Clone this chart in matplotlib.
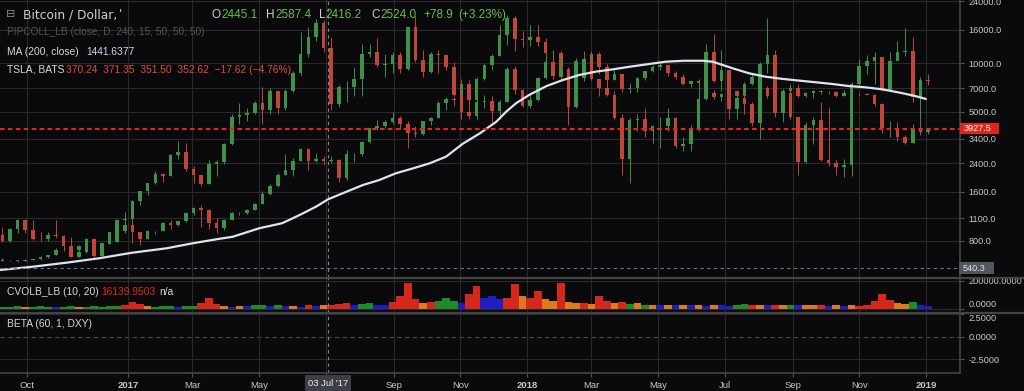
import numpy as np
import matplotlib
matplotlib.use("Agg")
import matplotlib.pyplot as plt
import matplotlib.dates as mdates
from matplotlib.lines import Line2D
from matplotlib.patches import Rectangle
from matplotlib.ticker import NullLocator, FixedLocator, FixedFormatter
from matplotlib.transforms import blended_transform_factory
from datetime import datetime, timedelta

plt.rcParams['font.family'] = ['Liberation Sans', 'DejaVu Sans']

# ---------------- data (weekly, week starting Monday) ----------------
week_start = datetime(2016, 9, 5)
n_weeks = 122

btc_open0 = 603
btc_close = [608, 609, 600, 612, 617, 638, 651, 699, 703, 702, 740, 734, 765, 770, 790, 925, 998,
             905, 820, 920, 920, 1025, 1000, 1055, 1180, 1270, 1230, 1030, 960, 1080,
             1190, 1180, 1240, 1350, 1550, 1750, 2050, 2200, 2500, 2950, 2500, 2550, 2500,
             2510, 1950, 2750, 2750, 3250, 4000, 4100, 4350, 4600, 4200, 3700, 3650, 4380,
             4600, 5700, 6000, 5900, 7400, 5900, 8000, 9700, 11000, 15000, 19100, 14000, 13800,
             14500, 13500, 11500, 11500, 8200, 8100, 10300, 9600, 11400, 9500, 7900, 8500, 6900,
             7000, 8100, 8900, 9400, 9700, 8700, 8200, 7400, 7700, 7500, 6500, 6200, 6400,
             6700, 6300, 7400, 8200, 7000, 6300, 6400, 6700, 7000, 6300, 6500, 6700, 6600,
             6600, 6300, 6500, 6450, 6400, 6350, 5600, 4000, 4000, 3500, 3200, 3900, 3750, 3900]
btc_high = [630, 612, 612, 613, 621, 642, 655, 720, 740, 740, 755, 755, 770, 775, 795, 940, 1000,
            1150, 910, 930, 925, 1040, 1070, 1060, 1200, 1290, 1330, 1250, 1100, 1090,
            1210, 1210, 1260, 1360, 1620, 1800, 2100, 2760, 2600, 2980, 2990, 2800, 2650,
            2650, 2560, 2900, 2800, 3300, 4000, 4480, 4450, 4980, 4700, 4400, 4100, 4400,
            4620, 5850, 6150, 6200, 7600, 7900, 8200, 9800, 11400, 17100, 19800, 19500, 15800,
            17200, 17100, 14200, 12000, 11800, 8700, 10800, 11800, 11600, 11700, 9900, 9100, 8600,
            7500, 8200, 8900, 9700, 9950, 9700, 8900, 8500, 7750, 7800, 7500, 6850, 6500,
            6800, 6800, 7600, 8500, 8300, 7200, 6600, 6900, 7400, 7400, 6600, 6800, 6800,
            6700, 6700, 6800, 6600, 6500, 6550, 6450, 5650, 4400, 4300, 3600, 4200, 4200, 3950]
btc_low = [600, 602, 591, 598, 607, 612, 625, 650, 690, 700, 700, 720, 730, 753, 770, 790, 890,
           780, 750, 820, 880, 915, 940, 990, 1040, 1150, 975, 950, 890, 930,
           1070, 1150, 1170, 1230, 1350, 1540, 1720, 2050, 2000, 2480, 2200, 2450, 2350,
           2400, 1850, 1900, 2450, 2650, 3200, 3850, 3950, 4200, 3900, 2980, 3500, 3600,
           4150, 4600, 5100, 5400, 5900, 5500, 5800, 7900, 9000, 11000, 13000, 11800, 12600,
           12800, 12700, 9400, 10100, 8000, 5900, 8000, 9300, 9400, 8600, 7300, 7900, 6600,
           6500, 6600, 7900, 8800, 9000, 8300, 8000, 7300, 7100, 7400, 6200, 6000, 5800,
           6300, 6100, 6300, 7300, 6900, 6100, 5900, 6200, 6600, 6200, 6200, 6100, 6400,
           6450, 6200, 6300, 6400, 6300, 6350, 5400, 3700, 3500, 3300, 3150, 3200, 3600, 3650]

tsla_open0 = 200
tsla_close = [194.5, 205.4, 213.4, 204.0, 196.6, 196.5, 200.0, 199.0, 190.6, 181.0, 185.0, 196.6, 181.5, 192.0, 202.5, 213.0, 213.7,
              229.0, 237.8, 244.7, 252.9, 251.3, 269.0, 272.0, 257.0, 251.6, 243.7, 261.5, 263.0, 278.3,
              302.5, 304.0, 305.6, 314.0, 308.0, 324.8, 310.0, 325.0, 339.9, 357.0, 371.4, 383.5, 361.6,
              313.2, 327.8, 328.4, 335.0, 356.9, 357.9, 347.5, 348.0, 355.4, 343.4, 379.8, 351.1, 341.1,
              356.9, 355.7, 345.1, 320.9, 306.1, 303.0, 315.0, 316.0, 306.9, 315.1, 343.5, 325.2, 311.4,
              316.6, 336.2, 350.0, 337.6, 343.8, 310.4, 335.5, 352.0, 335.1, 327.2, 321.4, 301.5, 266.1,
              299.3, 300.3, 290.2, 294.1, 294.1, 301.0, 276.8, 278.9, 291.8, 317.7, 358.2, 333.6, 342.9,
              308.9, 318.9, 313.6, 297.2, 348.2, 355.5, 305.5, 322.8, 301.7, 263.2, 295.2, 299.1, 264.8,
              261.95, 258.8, 260.95, 330.9, 346.4, 350.5, 354.3, 325.8, 350.5, 358.0, 358.8, 319.8, 333.9, 332.8]
tsla_high = [207, 206, 214, 214, 213, 203, 203, 213, 200, 198, 190, 197, 197, 193, 203, 214, 220,
             230, 238, 245, 255, 254, 270, 281, 280, 260, 252, 265, 265, 280,
             305, 314, 310, 316, 328, 327, 325, 326, 342, 376, 380, 387, 386,
             371, 330, 333, 345, 365, 365, 370, 357, 358, 358, 380, 389.6, 360,
             358, 360, 356, 350, 335, 315, 318, 321, 320, 317, 345, 346, 326,
             322, 337, 355, 356, 355, 345, 338, 354, 359, 335, 347, 325, 305,
             301, 305, 310, 295, 302, 310, 302, 285, 295, 335, 365, 374, 360,
             343, 323, 325, 315, 350, 387.5, 360, 326, 325, 302, 298, 302, 315,
             311, 265, 266, 332, 352, 356, 358, 354, 358, 368, 379, 371, 337, 339]
tsla_low = [194, 194, 202, 202, 196, 195, 195, 197, 187, 181, 181, 184, 181, 182, 192, 202, 208,
            212, 226, 235, 244, 246, 251, 266, 255, 245, 242, 244, 251, 261,
            278, 296, 299, 305, 296, 305, 305, 308, 324, 338, 354, 368, 358,
            308, 311, 315, 320, 320, 354, 345, 337, 340, 340, 343, 350, 337,
            340, 340, 343, 320, 300, 300, 300, 310, 298, 300, 315, 322, 311,
            310, 316, 335, 335, 334, 295, 310, 333, 334, 320, 320, 300, 252,
            244.6, 290, 285, 280, 275, 290, 275, 273, 273, 290, 317, 332, 325,
            300, 300, 305, 294, 283, 340, 302, 298, 300, 252, 262, 279, 264,
            260, 252, 250.6, 251, 328, 339, 331, 325, 325, 352, 355, 315, 295, 330]

ma_dates = ['2016-09-06', '2016-10-06', '2016-11-06', '2016-12-06', '2017-01-05', '2017-02-05',
            '2017-03-01', '2017-03-23', '2017-04-07', '2017-05-01', '2017-05-22', '2017-06-07',
            '2017-06-22', '2017-07-03', '2017-07-20', '2017-08-04', '2017-08-19', '2017-09-03',
            '2017-09-19', '2017-10-04', '2017-10-19', '2017-11-03', '2017-11-19', '2017-12-04',
            '2017-12-13', '2017-12-22', '2018-01-03', '2018-01-19', '2018-02-03', '2018-02-18',
            '2018-03-05', '2018-03-21', '2018-04-05', '2018-04-23', '2018-05-08', '2018-05-24',
            '2018-06-11', '2018-06-20', '2018-06-29', '2018-07-08', '2018-07-23', '2018-08-07',
            '2018-08-23', '2018-09-07', '2018-09-22', '2018-10-07', '2018-10-22', '2018-11-07',
            '2018-11-22', '2018-12-07', '2018-12-22', '2019-01-01']
ma_values = [528, 553, 586, 624, 675, 718,
             771, 817, 847, 955, 1026, 1153,
             1298, 1441, 1607, 1767, 1897, 2086,
             2240, 2405, 2642, 3166, 3684, 4345,
             5008, 5645, 6353, 7215, 7860, 8440,
             8850, 9150, 9490, 9870, 10190, 10330,
             10330, 10190, 9730, 9290, 8650, 8240,
             7980, 7790, 7610, 7430, 7215, 7080,
             6885, 6590, 6265, 6000]

cvol_values = [15, 12, 18, 14, 12, 20, 16, 12, 15, 18,
               14, 16, 20, 14, 18, 22, 25, 50, 35, 20,
               15, 18, 20, 14, 22, 18, 40, 80, 35, 20,
               15, 20, 18, 25, 28, 22, 25, 20, 18, 15,
               30, 20, 25, 28, 35, 40, 30, 35, 40, 30,
               30, 50, 90, 185, 70, 45, 50, 55, 80, 60,
               40, 110, 165, 80, 90, 70, 75, 180, 90, 80,
               125, 70, 55, 185, 50, 45, 40, 35, 95, 55,
               40, 50, 35, 45, 30, 28, 25, 28, 25, 32,
               28, 25, 20, 28, 25, 20, 28, 35, 32, 28,
               26, 32, 25, 28, 25, 25, 28, 26, 22, 25,
               20, 25, 22, 28, 55, 110, 65, 40, 38, 50,
               25, 20]  # thousands
cvol_cats = list("gggogggbgg" "ogggggrrro" "gggbggrrro" "bobggbgbob" "rborrrbggb"
                 "brrrrorggg" "brrbbbrror" "rooroororr" "orgogobobo" "bobobbggro"
                 "brogboorbo" "borrrrroog" "bb")

tick_dates = ['2016-10-01', '2017-01-01', '2017-03-01', '2017-05-01', '2017-07-01', '2017-09-01',
              '2017-11-01', '2018-01-01', '2018-03-01', '2018-05-01', '2018-07-01', '2018-09-01',
              '2018-11-01', '2019-01-01']
tick_labels = ['Oct', '2017', 'Mar', 'May', '', 'Sep', 'Nov', '2018', 'Mar', 'May', 'Jul', 'Sep', 'Nov', '2019']
price_ticks = [800, 1100, 1600, 2400, 3400, 5000, 7000, 10000, 16000, 24000]
last_btc = 3927.5
pip_last = 540.3
cross_date = '2017-07-03'

# ---------------- style ----------------
W, H = 1024, 391
BG = '#0a0a0c'
GRID = '#2a2a2a'
SEP = '#444444'
TXT = '#c8c8c8'
UP = '#3d9148'
DN = '#bf463b'
VOLC = {'g': '#1e8a28', 'r': '#d6271c', 'b': '#1e1ec4', 'o': '#dd7a1c'}

fig = plt.figure(figsize=(W / 100, H / 100), dpi=100)
fig.patch.set_facecolor(BG)


def rect(top, bottom, right=960):
    return [0, 1 - bottom / H, right / W, (bottom - top) / H]


ax_main = fig.add_axes(rect(0, 278))
ax_t = fig.add_axes(rect(0, 278), sharex=ax_main)
ax_vol = fig.add_axes(rect(278, 313), sharex=ax_main)
ax_beta = fig.add_axes(rect(313, 373), sharex=ax_main)

d0 = mdates.date2num(datetime(2017, 1, 1))
xl = (d0 - 128 / 1.093, d0 + 832 / 1.093)

dates = np.array([mdates.date2num(week_start + timedelta(days=7 * i + 3)) for i in range(n_weeks)])


def candles(ax, o0, c, h, l, width):
    c = np.asarray(c, float)
    o = np.concatenate([[o0], c[:-1]])
    cols = [UP if cc >= oo else DN for oo, cc in zip(o, c)]
    ax.vlines(dates, l, h, colors=cols, lw=0.7, zorder=2)
    ax.bar(dates, np.abs(c - o), bottom=np.minimum(o, c), width=width, color=cols,
           linewidth=0, zorder=3)


# BTC (log price scale)
ax_main.set_yscale('log')
candles(ax_main, btc_open0, btc_close, btc_high, btc_low, 3.3)
# TSLA overlay (own linear scale)
candles(ax_t, tsla_open0, tsla_close, tsla_high, tsla_low, 3.3)

ma_nums = [mdates.date2num(datetime.strptime(d, '%Y-%m-%d')) for d in ma_dates]
ax_t.plot(ma_nums, ma_values, color='#dde4ee', lw=1.6, transform=ax_main.transData,
          zorder=6, solid_capstyle='round', solid_joinstyle='round')
bl = blended_transform_factory(ax_t.transAxes, ax_main.transData)
ax_t.plot([0, 1], [last_btc, last_btc], transform=bl, color='#e3271c', lw=1.5,
          ls=(0, (2.2, 1.6)), zorder=7)
ax_t.plot([0, 1], [pip_last, pip_last], transform=bl, color='#6a7684', lw=0.8,
          ls=(0, (3, 3)), zorder=7)

ax_main.set_ylim(471, 24500)
ax_t.set_ylim(162.8, 403.3)
ax_t.axis('off')

# volume-like indicator
ax_vol.bar(dates, np.array(cvol_values) * 1000.0, width=7.0,
           color=[VOLC[k] for k in cvol_cats], linewidth=0, zorder=3)
ax_vol.set_ylim(-28600, 221400)
ax_beta.set_ylim(-4.0, 2.61)

tick_nums = [mdates.date2num(datetime.strptime(d, '%Y-%m-%d')) for d in tick_dates]
cross_num = mdates.date2num(datetime.strptime(cross_date, '%Y-%m-%d'))

for a in (ax_main, ax_vol, ax_beta):
    a.set_facecolor(BG)
    for s in a.spines.values():
        s.set_visible(False)
    a.xaxis.set_major_locator(FixedLocator(tick_nums))
    a.xaxis.set_minor_locator(NullLocator())
    a.grid(True, axis='x', color=GRID, lw=0.8, zorder=0)
    a.tick_params(axis='x', length=0, labelbottom=False)
    a.yaxis.tick_right()
    a.tick_params(axis='y', length=3, color='#555555', labelcolor=TXT, labelsize=6.6, pad=3)
    a.axvline(cross_num, color='#858585', lw=0.8, ls=(0, (3, 3)), zorder=8)
    a.set_axisbelow(True)

ax_main.yaxis.set_minor_locator(NullLocator())
ax_main.yaxis.set_major_locator(FixedLocator(price_ticks))
ax_main.yaxis.set_major_formatter(FixedFormatter(['%.1f' % v for v in price_ticks]))
ax_main.grid(True, axis='y', color=GRID, lw=0.8)

ax_vol.yaxis.set_major_locator(FixedLocator([0, 200000]))
ax_vol.yaxis.set_major_formatter(FixedFormatter(['0.0000', '200000.0000']))
ax_vol.grid(True, axis='y', color=GRID, lw=0.8)

ax_beta.yaxis.set_major_locator(FixedLocator([-2.5, 0, 2.5]))
ax_beta.yaxis.set_major_formatter(FixedFormatter(['-2.5000', '0.0000', '2.5000']))
ax_beta.axhline(-2.5, color=GRID, lw=0.8, zorder=0)
ax_beta.axhline(2.5, color=GRID, lw=0.8, zorder=0)
ax_beta.axhline(0, color='#4a4a4a', lw=0.8, ls=(0, (4, 3)), zorder=0)

ax_beta.tick_params(axis='x', labelbottom=True, length=3, color='#555555',
                    labelcolor=TXT, labelsize=6.8, pad=3)
ax_beta.xaxis.set_major_formatter(FixedFormatter(tick_labels))
ax_main.set_xlim(xl)
for lab, txt in zip(ax_beta.get_xticklabels(), tick_labels):
    if txt.isdigit():
        lab.set_fontweight('bold')

# keep the stacked "0.0000" / "2.5000" labels from sitting on top of each other
fig.canvas.draw()
ax_vol.get_yticklabels()[0].set_va('bottom')
ax_beta.get_yticklabels()[2].set_va('top')


# separators / frame
def fline(x0, x1, y0, y1, color=SEP, lw=1.2):
    fig.add_artist(Line2D([x0 / W, x1 / W], [1 - y0 / H, 1 - y1 / H], transform=fig.transFigure,
                          color=color, lw=lw, zorder=9))


fline(0, W, 278, 278, lw=1.6)
fline(0, W, 313, 313, lw=1.6)
fline(0, 960, 373, 373)
fline(960, 960, 0, 373)


# ---------------- texts ----------------
def ptext(x, y, s, **kw):
    kw.setdefault('va', 'baseline')
    kw.setdefault('ha', 'left')
    fig.text(x / W, 1 - y / H, s, **kw)


ptext(6, 17, '\u229f', family='DejaVu Sans', fontsize=8, color='#8a8a8a')
ptext(23, 18, 'Bitcoin / Dollar,', family='DejaVu Sans', fontsize=8.8, color='#d0d0d0')
ptext(119, 18, "'", family='DejaVu Sans', fontsize=8.8, color='#d0d0d0')
GREEN_T = '#62c045'
for x, s in [(212, 'O'), (266, 'H'), (319, 'L'), (371, 'C')]:
    ptext(x, 18, s, fontsize=8.5, color='#d0d0d0')
for x, s in [(221, '2445.1'), (275, '2587.4'), (325, '2416.2'), (380, '2524.0'),
             (423, '+78.9'), (458, '(+3.23%)')]:
    ptext(x, 18, s, fontsize=8.5, color=GREEN_T)

ptext(7, 35, 'PIPCOLL_LB (close, D, 240, 15, 50, 50, 50)', fontsize=7.3, color='#555555')
ptext(7, 55, 'MA (200, close)', fontsize=7.4, color='#d8d8d8')
ptext(86, 55, '1441.6377', fontsize=7.4, color='#c9d6ec')
ptext(7, 73, 'TSLA, BATS', fontsize=7.4, color='#d8d8d8')
ptext(66, 73, '370.24  371.35  351.50  352.62  \u221217.62 (\u22124.76%)', fontsize=7.4, color='#e24a3b')

ptext(7, 295, 'CVOLB_LB (10, 20)', fontsize=7.4, color='#d8d8d8')
ptext(101, 295, '16139.9503', fontsize=7.4, color='#e3261e')
ptext(159, 295, 'n/a', fontsize=7.4, color='#d8d8d8')
ptext(7, 327, 'BETA (60, 1, DXY)', fontsize=7.4, color='#d8d8d8')


# ---------------- badges ----------------
def badge(x0, x1, yc, h, fc, s, tc, tx=None, ha='left', fs=6.6):
    fig.add_artist(Rectangle((x0 / W, 1 - (yc + h / 2) / H), (x1 - x0) / W, h / H,
                             transform=fig.transFigure, facecolor=fc, edgecolor='none', zorder=10))
    if tx is None:
        tx = x0 + 4
    return fig.text(tx / W, 1 - yc / H, s, color=tc, fontsize=fs, va='center', ha=ha, zorder=11)


y_last = H - ax_main.transData.transform((xl[0], last_btc))[1]
badge(960, 999, y_last, 11, '#e0251b', '%.1f' % last_btc, '#ffffff')
y_pip = H - ax_main.transData.transform((xl[0], pip_last))[1]
badge(959, 994, y_pip, 12, '#50565e', '%.1f' % pip_last, '#e6e6e6')
xc = ax_beta.transData.transform((cross_num, 0))[0]
badge(xc - 23, xc + 23, 383, 17, '#3c3f45', "03 Jul '17", '#ececec', tx=xc, ha='center', fs=6.8)

fig.savefig('out.png', dpi=100, facecolor=BG)
